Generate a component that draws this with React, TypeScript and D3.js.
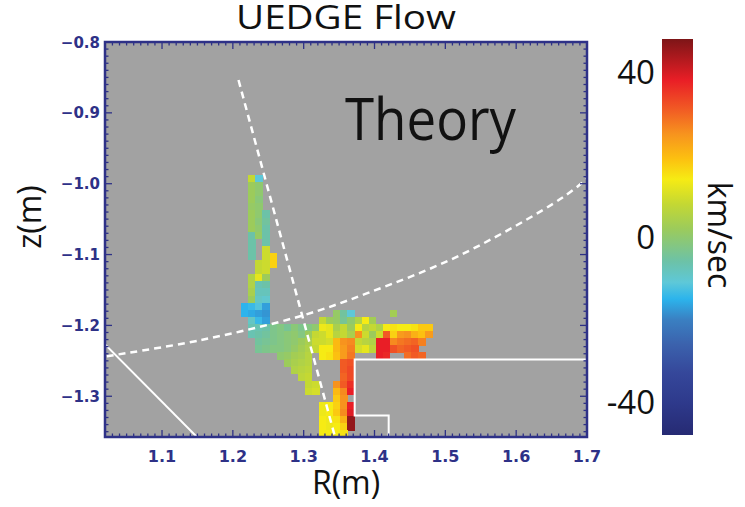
import React from 'react';
import * as d3 from 'd3';

// Axis ticks (metres) and colour-bar ticks (km/sec)
const R_TICKS = [1.1, 1.2, 1.3, 1.4, 1.5, 1.6, 1.7];
const Z_TICKS = [-0.8, -0.9, -1.0, -1.1, -1.2, -1.3];
const CBAR_TICKS = [40, 0, -40];

const R_RANGE = [1.0195, 1.7];
const Z_RANGE = [-0.8, -1.3575];
const V_RANGE = [-48, 48];

// Rainbow colour table, value (km/sec) -> colour
const CMAP_VALUES = [-48, -40, -33, -26, -20, -15, -11, -6, 2, 8, 14, 19, 25, 31, 38, 48];
const CMAP_COLORS = [
  '#262a73', '#2e3a8c', '#35479a', '#3b62ad', '#3a80c2', '#2cb4ec', '#5ec8d8', '#6cc2a8',
  '#9ccb5b', '#c4d833', '#f6eb14', '#fcc010', '#f7931e', '#f15a24', '#e91e26', '#7d1517',
];

// UEDGE parallel flow on a 1 cm mesh: [row, first column, values (km/sec)]
const CELL = 0.01;
const GRID_R0 = 1.2218;
const GRID_Z0 = -0.9878;
const FLOW_ROWS: [number, number, (number | null)[]][] = [
  [0, 0, [8, -11]],
  [1, 0, [2, 0]],
  [2, 0, [2, 0]],
  [3, 0, [2, -1]],
  [4, 0, [1, 0]],
  [5, 0, [2, 0, -6]],
  [6, 0, [2, -1, -5]],
  [7, 0, [2, 0, -6]],
  [8, 0, [-6, 1, -6]],
  [9, 0, [-6, null, -6]],
  [10, 0, [-6, null, 9]],
  [11, 0, [-6, null, 9, 17]],
  [12, 1, [8, 9, 17]],
  [13, 1, [8, 9]],
  [14, 0, [5, 12, 2]],
  [15, 0, [5, -7, -6]],
  [16, 0, [4, -8, -8]],
  [17, 0, [2, -9, -10]],
  [18, -1, [-15, -14, -12, -17]],
  [19, -1, [-15, -16, -17, -18]],
  [19, 12, [1, -5, -11]],
  [19, 20, [3]],
  [20, 0, [-9, -14, -17]],
  [20, 10, [8, 2, 1, -4, 0, 5, 14, 3]],
  [21, 0, [-7, -7, -6, -3, -2, -4, -1, -3, -2, 0, 13, 12, 4, 8, 2, 14, 6, 8, 5, 14, 15, 14, 14, 15, 18, 18]],
  [22, 0, [-7, -6, -5, -3, -2, -1, 0, -2, 2, 8, 9, 12, 6, 8, 4, 25, 9, 2, 9, 31, 17, 24, 25, 21, 19, 24]],
  [23, 1, [-5, -4, -3, -2, -1, 0, 2, 4, 9, 9, 10, 20, 25, 26, 8, 6, 5, 38, 38, 26, 28, 29, 30, 27]],
  [24, 1, [-4, -3, -2, -2, -1, 1, 3, 5, 8, 14, 14, 20, 24, 27, 10, 12, 7, 38, 38, 32, 30, 31, 32]],
  [25, 4, [0, 1, 3, 4, 6, null, 14, 15, 19, 24, 28, null, null, null, 38, 37, null, null, 29, 31, 30]],
  [26, 5, [2, 4, 5, 6]],
  [26, 13, [31, 32]],
  [27, 6, [5, 6, 7]],
  [27, 13, [31, 33]],
  [28, 7, [7, 8]],
  [28, 13, [30, 33]],
  [29, 8, [8, 9]],
  [29, 12, [25, 31, 36]],
  [30, 8, [9, 10]],
  [30, 12, [20, 26, 38]],
  [31, 12, [18, 25, null]],
  [32, 10, [13, 14, 17, 25, 38]],
  [33, 10, [13, 14, 18, 26, 39]],
  [34, 10, [14, 13, 15, 21, 46]],
  [35, 10, [14, 13, 14, 17, 46]],
  [36, 10, [14, 14, 14, 15]],
];

// Divertor shelf and inner wall (solid), leg and separatrix (dashed)
const SHELF_R = [1.72, 1.372, 1.372, 1.42, 1.42];
const SHELF_Z = [-1.248, -1.248, -1.327, -1.327, -1.40];
const INNER_R = [1.0, 1.17];
const INNER_Z = [-1.2071, -1.3783];
const LEG_R = [1.208, 1.3455];
const LEG_Z = [-0.8537, -1.362];
const SEP_R = [1.022, 1.154, 1.295, 1.389, 1.521, 1.6665, 1.71];
const SEP_Z = [-1.2435, -1.2209, -1.187, -1.1549, -1.1008, -1.0189, -0.9844];

const NAVY = '#2e3187';
const SANS = '"Open Sans", "Noto Sans", sans-serif';
const TICK_FONT = '"DejaVu Sans", sans-serif';

export default function App() {
  const W = 745;
  const H = 507;
  const L = 105, R = 587, T = 42, B = 437;
  const CB_X = 662, CB_W = 31, CB_T = 39, CB_B = 435;

  const x = d3.scaleLinear().domain(R_RANGE).range([L, R]);
  const y = d3.scaleLinear().domain(Z_RANGE).range([T, B]);
  const cb = d3.scaleLinear().domain(V_RANGE).range([CB_B, CB_T]);
  const color = d3
    .scaleLinear<string>()
    .domain(CMAP_VALUES)
    .range(CMAP_COLORS)
    .interpolate(d3.interpolateRgb)
    .clamp(true);

  const cells: { r: number; z: number; v: number }[] = [];
  FLOW_ROWS.forEach(([row, c0, vals]) => {
    vals.forEach((v, k) => {
      if (v === null) return;
      cells.push({ r: GRID_R0 + (c0 + k) * CELL, z: GRID_Z0 - row * CELL, v });
    });
  });

  const line = d3
    .line<[number, number]>()
    .x((d) => x(d[0]))
    .y((d) => y(d[1]));
  const curve = d3
    .line<[number, number]>()
    .x((d) => x(d[0]))
    .y((d) => y(d[1]))
    .curve(d3.curveCatmullRom);
  const zip = (a: number[], b: number[]) => a.map((v, i) => [v, b[i]] as [number, number]);

  const rMinor = d3.range(102, 171).map((k) => k / 100);
  const zMinor = d3.range(80, 136).map((k) => -k / 100);
  const isMajor = (v: number) => Math.abs(v * 10 - Math.round(v * 10)) < 1e-6;

  const fmt = (v: number) => {
    const s = d3.format('.1f')(Math.abs(v));
    return v < 0 ? '\u2212' + s : s;
  };

  return (
    <svg
      width={W}
      height={H}
      style={{ position: 'absolute', left: 0, top: 0, background: '#fff' }}
    >
      <defs>
        <clipPath id="plot-clip">
          <rect x={L} y={T} width={R - L} height={B - T} />
        </clipPath>
        <linearGradient id="cbar" x1="0" y1="1" x2="0" y2="0">
          {CMAP_VALUES.map((v, i) => (
            <stop
              key={i}
              offset={(v - V_RANGE[0]) / (V_RANGE[1] - V_RANGE[0])}
              stopColor={CMAP_COLORS[i]}
            />
          ))}
        </linearGradient>
      </defs>

      <text
        x={(L + R) / 2}
        y={29}
        textAnchor="middle"
        fontFamily={SANS}
        fontSize={32}
        textLength={220}
        lengthAdjust="spacingAndGlyphs"
        fill="#111"
      >
        UEDGE Flow
      </text>

      <rect x={L} y={T} width={R - L} height={B - T} fill="#a2a2a2" />

      <g clipPath="url(#plot-clip)">
        {cells.map((c, i) => (
          <rect
            key={i}
            x={x(c.r)}
            y={y(c.z)}
            width={x(c.r + CELL) - x(c.r) + 0.4}
            height={y(c.z - CELL) - y(c.z) + 0.4}
            fill={color(c.v)}
            shapeRendering="crispEdges"
          />
        ))}
        <path d={line(zip(SHELF_R, SHELF_Z)) || ''} fill="none" stroke="#fff" strokeWidth={2} />
        <path d={line(zip(INNER_R, INNER_Z)) || ''} fill="none" stroke="#fff" strokeWidth={2} />
        <path
          d={line(zip(LEG_R, LEG_Z)) || ''}
          fill="none"
          stroke="#fff"
          strokeWidth={2.5}
          strokeDasharray="7 5"
        />
        <path
          d={curve(zip(SEP_R, SEP_Z)) || ''}
          fill="none"
          stroke="#fff"
          strokeWidth={2.5}
          strokeDasharray="7 5"
        />
      </g>

      <text
        x={345}
        y={140}
        fontFamily={SANS}
        fontSize={58}
        textLength={171}
        lengthAdjust="spacingAndGlyphs"
        fill="#111"
      >
        Theory
      </text>

      {/* frame with inward ticks on all four sides */}
      <g stroke={NAVY} strokeWidth={1.3}>
        {rMinor.map((v, i) => {
          const len = isMajor(v) ? 7 : 3.5;
          return (
            <g key={'r' + i}>
              <line x1={x(v)} x2={x(v)} y1={B} y2={B - len} />
              <line x1={x(v)} x2={x(v)} y1={T} y2={T + len} />
            </g>
          );
        })}
        {zMinor.map((v, i) => {
          const len = isMajor(v) ? 7 : 3.5;
          return (
            <g key={'z' + i}>
              <line x1={L} x2={L + len} y1={y(v)} y2={y(v)} />
              <line x1={R} x2={R - len} y1={y(v)} y2={y(v)} />
            </g>
          );
        })}
      </g>
      <rect x={L} y={T} width={R - L} height={B - T} fill="none" stroke={NAVY} strokeWidth={2.5} />

      {R_TICKS.map((v) => (
        <text
          key={'rl' + v}
          x={x(v)}
          y={462}
          textAnchor="middle"
          fontFamily={TICK_FONT}
          fontWeight="bold"
          fontSize={16}
          fill={NAVY}
        >
          {fmt(v)}
        </text>
      ))}
      {Z_TICKS.map((v) => (
        <text
          key={'zl' + v}
          x={100}
          y={y(v) + 5.5}
          textAnchor="end"
          fontFamily={TICK_FONT}
          fontWeight="bold"
          fontSize={15}
          fill={NAVY}
        >
          {fmt(v)}
        </text>
      ))}

      <text x={(L + R) / 2} y={494} textAnchor="middle" fontFamily={SANS} fontSize={32} fill="#111">
        R(m)
      </text>
      <text
        transform={`translate(41, 217) rotate(-90)`}
        textAnchor="middle"
        fontFamily={SANS}
        fontSize={32}
        fill="#111"
      >
        z(m)
      </text>

      {/* colour bar */}
      <rect x={CB_X} y={CB_T} width={CB_W} height={CB_B - CB_T} fill="url(#cbar)" />
      {CBAR_TICKS.map((v) => (
        <text
          key={'cb' + v}
          x={655}
          y={cb(v) + 12}
          textAnchor="end"
          fontFamily={SANS}
          fontSize={33}
          fill="#111"
        >
          {v < 0 ? '-' + Math.abs(v) : String(v)}
        </text>
      ))}
      <text
        transform={`translate(708, 235) rotate(90)`}
        textAnchor="middle"
        fontFamily={SANS}
        fontSize={32}
        fill="#111"
      >
        km/sec
      </text>
    </svg>
  );
}
